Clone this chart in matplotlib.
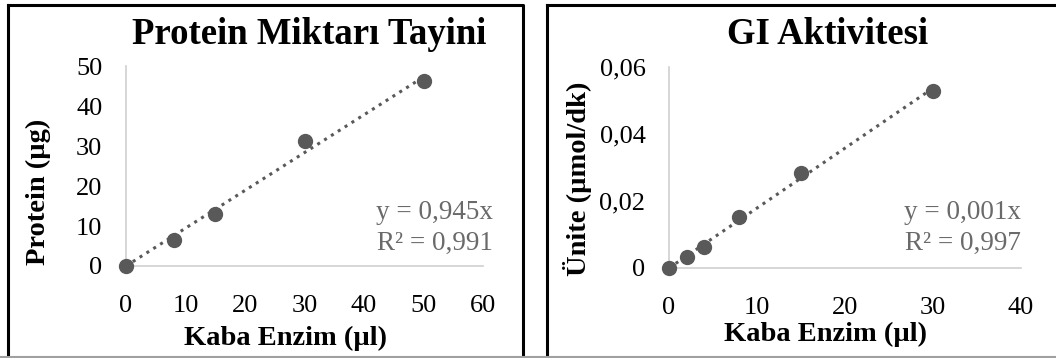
import numpy as np
import matplotlib
matplotlib.use("Agg")
import matplotlib.pyplot as plt
from matplotlib.lines import Line2D

plt.rcParams['font.family'] = ['Liberation Serif', 'DejaVu Serif']

# protein assay
prot_x = [0, 8, 15, 30, 50]
prot_y = [0, 6.6, 13.1, 31.3, 46.2]
prot_slope = 0.945
prot_r2 = "0,991"

# GI activity
gi_x = [0, 2, 4, 8, 15, 30]
gi_y = [0, 0.0033, 0.0063, 0.0152, 0.0284, 0.0528]
gi_r2 = "0,997"

W, H = 1056, 358
fig = plt.figure(figsize=(W / 100, H / 100), dpi=100)


def px(x0, y0, x1, y1):
    # pixel box (top-left origin) -> figure fraction rect
    return [x0 / W, 1 - y1 / H, (x1 - x0) / W, (y1 - y0) / H]


def fx(x):
    return x / W


def fy(y):
    return 1 - y / H


# panel frames
for (x0, x1) in [(8, 523), (547, 1060)]:
    fig.add_artist(Line2D([fx(x0), fx(x1), fx(x1), fx(x0), fx(x0)],
                          [fy(5), fy(5), fy(359), fy(359), fy(5)],
                          color='black', lw=2.2, transform=fig.transFigure))
fig.add_artist(Line2D([0, 1], [fy(357), fy(357)], color='#a0a0a0', lw=1.5,
                      transform=fig.transFigure))

dot = '#595959'


def style(ax, xlim, ylim, xticks, yticks, ylabels):
    ax.set_xlim(xlim)
    ax.set_ylim(ylim)
    ax.set_xticks(xticks)
    ax.set_yticks(yticks)
    ax.set_yticklabels(ylabels)
    for s in ['top', 'right']:
        ax.spines[s].set_visible(False)
    for s in ['left', 'bottom']:
        ax.spines[s].set_color('#d0d0d0')
        ax.spines[s].set_linewidth(1.2)
    ax.tick_params(length=0, labelsize=19, labelcolor='black')
    ax.tick_params(axis='x', pad=21)
    ax.tick_params(axis='y', pad=17)


# left chart
ax1 = fig.add_axes(px(126, 66, 483, 266))
ax1.set_facecolor('none')
xx = np.array([0, max(prot_x)])
ax1.plot(xx, prot_slope * xx, ':', color=dot, lw=2.2, zorder=2)
ax1.plot(prot_x, prot_y, 'o', color=dot, ms=10, clip_on=False, zorder=3)
style(ax1, (0, 60), (0, 50), range(0, 61, 10), range(0, 51, 10),
      [str(v) for v in range(0, 51, 10)])

# right chart
ax2 = fig.add_axes(px(669, 67, 1021, 268))
ax2.set_facecolor('none')
gx = np.array(gi_x)
gy = np.array(gi_y)
gi_slope = (gx * gy).sum() / (gx * gx).sum()
xx = np.array([0, max(gi_x)])
ax2.plot(xx, gi_slope * xx, ':', color=dot, lw=2.2, zorder=2)
ax2.plot(gi_x, gi_y, 'o', color=dot, ms=10, clip_on=False, zorder=3)
style(ax2, (0, 40), (0, 0.06), range(0, 41, 10), [0, 0.02, 0.04, 0.06],
      ['0', '0,02', '0,04', '0,06'])

# titles
fig.text(fx(309), fy(34), 'Protein Miktarı Tayini', ha='center', va='center',
         fontsize=26.5, fontweight='bold')
fig.text(fx(828), fy(34), 'GI Aktivitesi', ha='center', va='center',
         fontsize=26.5, fontweight='bold')

# axis labels
fig.text(fx(285), fy(338), 'Kaba Enzim (µl)', ha='center', va='center',
         fontsize=20.5, fontweight='bold')
fig.text(fx(825), fy(334), 'Kaba Enzim (µl)', ha='center', va='center',
         fontsize=20.5, fontweight='bold')
fig.text(fx(38), fy(192), 'Protein (µg)', ha='center', va='center',
         rotation=90, fontsize=20.5, fontweight='bold')
fig.text(fx(578), fy(179), 'Ünite (µmol/dk)', ha='center', va='center',
         rotation=90, fontsize=20.5, fontweight='bold')

# trendline equations
eq_col = '#6a6a6a'
fig.text(fx(493), fy(213), 'y = 0,945x', ha='right', va='center',
         fontsize=19.5, color=eq_col)
fig.text(fx(493), fy(243), 'R² = ' + prot_r2, ha='right', va='center',
         fontsize=19.5, color=eq_col)
fig.text(fx(1021), fy(213), 'y = 0,001x', ha='right', va='center',
         fontsize=19.5, color=eq_col)
fig.text(fx(1021), fy(243), 'R² = ' + gi_r2, ha='right', va='center',
         fontsize=19.5, color=eq_col)

fig.savefig('out.png', dpi=100)
